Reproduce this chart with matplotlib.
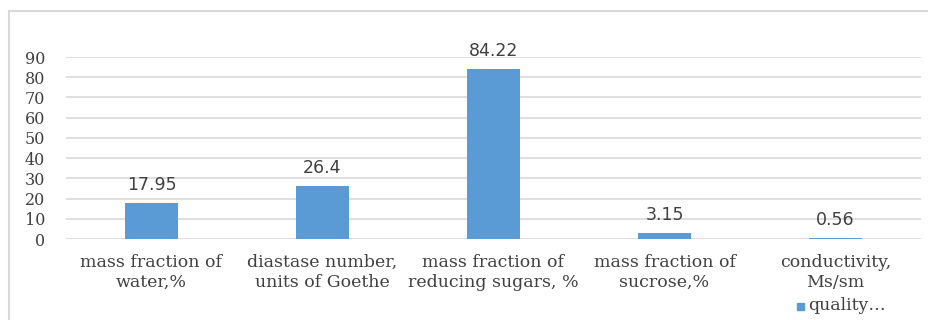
import matplotlib.pyplot as plt
from matplotlib.lines import Line2D
import numpy as np

categories = ["mass fraction of\nwater,%", "diastase number,\nunits of Goethe",
              "mass fraction of\nreducing sugars, %", "mass fraction of\nsucrose,%",
              "conductivity,\nMs/sm"]
values = [17.95, 26.4, 84.22, 3.15, 0.56]
labels = ["17.95", "26.4", "84.22", "3.15", "0.56"]
series_name = "quality\u2026"

BLUE = '#5b9bd5'
GRID = '#d9d9d9'
TXT = '#404040'
SERIF = 'DejaVu Serif'

fig = plt.figure(figsize=(9.29, 3.2), dpi=100)
ax = fig.add_axes([66 / 929, 1 - 239 / 320, 855 / 929, 182 / 320])

x = np.arange(len(values))
ax.bar(x, values, width=0.31, color=BLUE, zorder=3)
for xi, v, t in zip(x, values, labels):
    ax.text(xi, v + 4.5, t, ha='center', va='bottom', fontsize=12.5,
            color=TXT, family='DejaVu Sans')

ax.set_xlim(-0.5, len(values) - 0.5)
ax.set_ylim(0, 90)
ax.set_yticks(range(0, 91, 10))
ax.yaxis.grid(True, color=GRID, linewidth=1.2, zorder=0)
for s in ax.spines.values():
    s.set_visible(False)
ax.tick_params(length=0)
ax.tick_params(axis='y', pad=15)
ax.tick_params(axis='x', pad=11)
ax.set_xticks(x)
ax.set_xticklabels(categories, family=SERIF, fontsize=12.5,
                   color=TXT, linespacing=1.2)
for lab in ax.get_yticklabels():
    lab.set_family(SERIF)
    lab.set_fontsize(11.5)
    lab.set_color(TXT)

# legend at the lower right
fig.patches.append(plt.Rectangle((797 / 929, 1 - 310 / 320), 7 / 929, 7 / 320,
                                 transform=fig.transFigure, color=BLUE))
fig.text(808 / 929, 1 - 306 / 320, series_name,
         va='center', ha='left', family=SERIF, fontsize=12.5, color=TXT)

# outer border (top and left edges)
fig.add_artist(Line2D([9 / 929, 1], [1 - 11 / 320] * 2, transform=fig.transFigure,
                      color=GRID, linewidth=1.5))
fig.add_artist(Line2D([9 / 929] * 2, [0, 1 - 11 / 320], transform=fig.transFigure,
                      color=GRID, linewidth=1.5))

fig.savefig('out.png', dpi=100)
